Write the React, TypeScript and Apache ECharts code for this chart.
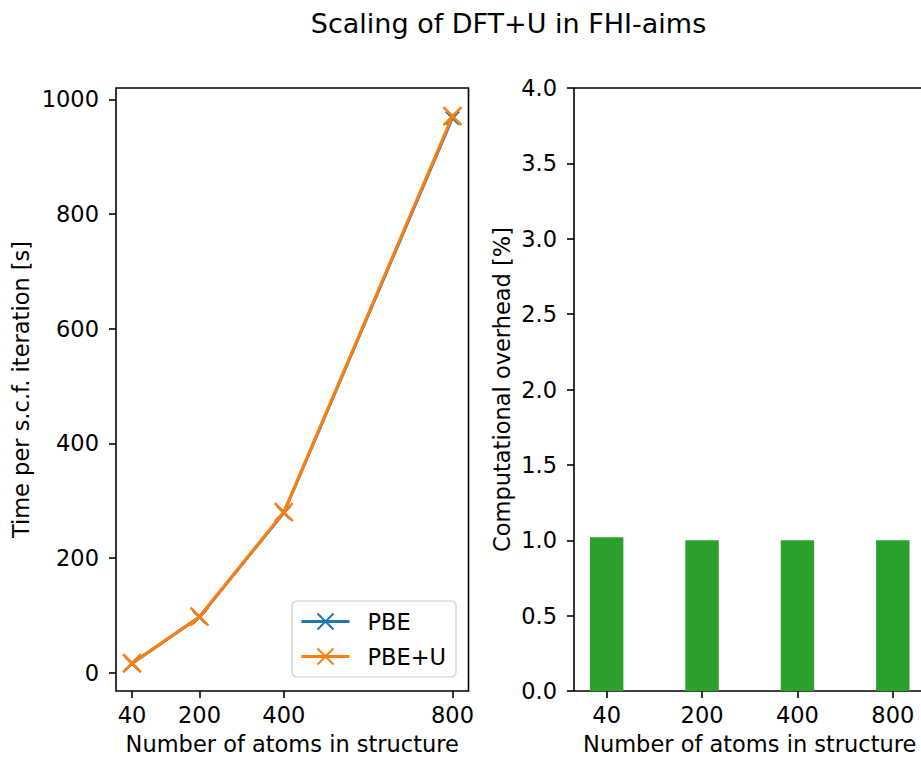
import { useEffect, useRef } from "react";
import * as echarts from "echarts";

// Structure sizes (number of atoms) and timings per s.c.f. iteration [s]
const atoms = [40, 200, 400, 800];
const atomLabels = ["40", "200", "400", "800"];
const timePBE = [16, 97, 279, 968];
const timePBEU = [16.4, 97.6, 280, 971];
const timeTicks = [0, 200, 400, 600, 800, 1000];

// Relative cost of PBE+U over PBE [%]
const overheadPct = [1.02, 1.0, 1.0, 1.0];
const barSlots = [0, 1, 2, 3];

const FONT = "DejaVu Sans";
const BLUE = "#1f77b4";
const ORANGE = "#ff7f0e";
const GREEN = "#2ca02c";
const CROSS = "path://M0,0L10,10M10,0L0,10";
const FS = 22.5;

const tickLabel = (margin: number) => ({
  color: "#000",
  fontSize: FS,
  fontFamily: FONT,
  margin,
});
const tick = { show: true, inside: false, length: 7, lineStyle: { color: "#000", width: 1.6 } };
const hiddenLine = { show: false, onZero: false };
const nameStyle = { color: "#000", fontSize: FS, fontFamily: FONT };

export default function App() {
  const ref = useRef<HTMLDivElement>(null);

  useEffect(() => {
    if (!ref.current) return;
    const chart = echarts.init(ref.current, undefined, { renderer: "svg" });
    chart.setOption({
      animation: false,
      backgroundColor: "#fff",
      textStyle: { fontFamily: FONT },
      title: {
        text: "Scaling of DFT+U in FHI-aims",
        left: 503.5,
        textAlign: "center",
        top: 5,
        textStyle: { color: "#000", fontSize: 27, fontWeight: "normal", fontFamily: FONT },
      },
      legend: {
        data: ["PBE", "PBE+U"],
        orient: "vertical",
        left: 292,
        top: 601,
        padding: [9, 10, 9, 8],
        itemWidth: 48,
        itemHeight: 20,
        itemGap: 12,
        backgroundColor: "rgba(255,255,255,0.8)",
        borderColor: "#cccccc",
        borderWidth: 1.2,
        borderRadius: 5,
        lineStyle: { width: 3 },
        textStyle: { color: "#000", fontSize: FS, fontFamily: FONT, padding: [0, 0, 0, 13] },
      },
      grid: [
        {
          left: 116,
          top: 88,
          width: 352.5,
          height: 603,
          outerBoundsMode: "none",
          containLabel: false,
          show: true,
          borderColor: "#000",
          borderWidth: 1.6,
          backgroundColor: "transparent",
        },
        {
          left: 574,
          top: 88,
          width: 351.5,
          height: 603,
          outerBoundsMode: "none",
          containLabel: false,
          show: true,
          borderColor: "#000",
          borderWidth: 1.6,
          backgroundColor: "transparent",
        },
      ],
      xAxis: [
        {
          type: "value",
          gridIndex: 0,
          min: 2,
          max: 838,
          axisLine: hiddenLine,
          splitLine: { show: false },
          axisTick: { ...tick, customValues: atoms },
          axisLabel: { ...tickLabel(12), customValues: atoms, formatter: (v: number) => String(v) },
          name: "Number of atoms in structure",
          nameLocation: "middle",
          nameGap: 41,
          nameTextStyle: nameStyle,
        },
        {
          type: "value",
          gridIndex: 1,
          min: -0.3425,
          max: 3.3425,
          axisLine: hiddenLine,
          splitLine: { show: false },
          axisTick: { ...tick, customValues: barSlots },
          axisLabel: {
            ...tickLabel(12),
            customValues: barSlots,
            formatter: (v: number) => atomLabels[Math.round(v)] ?? "",
          },
          name: "Number of atoms in structure",
          nameLocation: "middle",
          nameGap: 41,
          nameTextStyle: nameStyle,
        },
      ],
      yAxis: [
        {
          type: "value",
          gridIndex: 0,
          min: -32,
          max: 1020,
          axisLine: hiddenLine,
          splitLine: { show: false },
          axisTick: { ...tick, customValues: timeTicks },
          axisLabel: { ...tickLabel(17), customValues: timeTicks, formatter: (v: number) => String(v) },
          name: "Time per s.c.f. iteration [s]",
          nameLocation: "middle",
          nameGap: 84,
          nameTextStyle: nameStyle,
        },
        {
          type: "value",
          gridIndex: 1,
          min: 0,
          max: 4,
          interval: 0.5,
          axisLine: hiddenLine,
          splitLine: { show: false },
          axisTick: tick,
          axisLabel: { ...tickLabel(17), formatter: (v: number) => v.toFixed(1) },
          name: "Computational overhead [%]",
          nameLocation: "middle",
          nameGap: 61,
          nameTextStyle: nameStyle,
        },
      ],
      series: [
        {
          type: "line",
          name: "PBE",
          xAxisIndex: 0,
          yAxisIndex: 0,
          data: atoms.map((a, i) => [a, timePBE[i]]),
          symbol: CROSS,
          symbolSize: 13,
          lineStyle: { color: BLUE, width: 3 },
          itemStyle: { color: BLUE, borderColor: BLUE, borderWidth: 2.5 },
          z: 2,
        },
        {
          type: "line",
          name: "PBE+U",
          xAxisIndex: 0,
          yAxisIndex: 0,
          data: atoms.map((a, i) => [a, timePBEU[i]]),
          symbol: CROSS,
          symbolSize: 18,
          lineStyle: { color: ORANGE, width: 3 },
          itemStyle: { color: ORANGE, borderColor: ORANGE, borderWidth: 2.5 },
          z: 3,
        },
        {
          type: "bar",
          xAxisIndex: 1,
          yAxisIndex: 1,
          data: barSlots.map((s, i) => [s, overheadPct[i]]),
          barWidth: 33.4,
          itemStyle: { color: GREEN },
        },
      ],
    });
    return () => chart.dispose();
  }, []);

  return (
    <div
      ref={ref}
      style={{ position: "fixed", left: 0, top: 0, width: 921, height: 761 }}
    />
  );
}
